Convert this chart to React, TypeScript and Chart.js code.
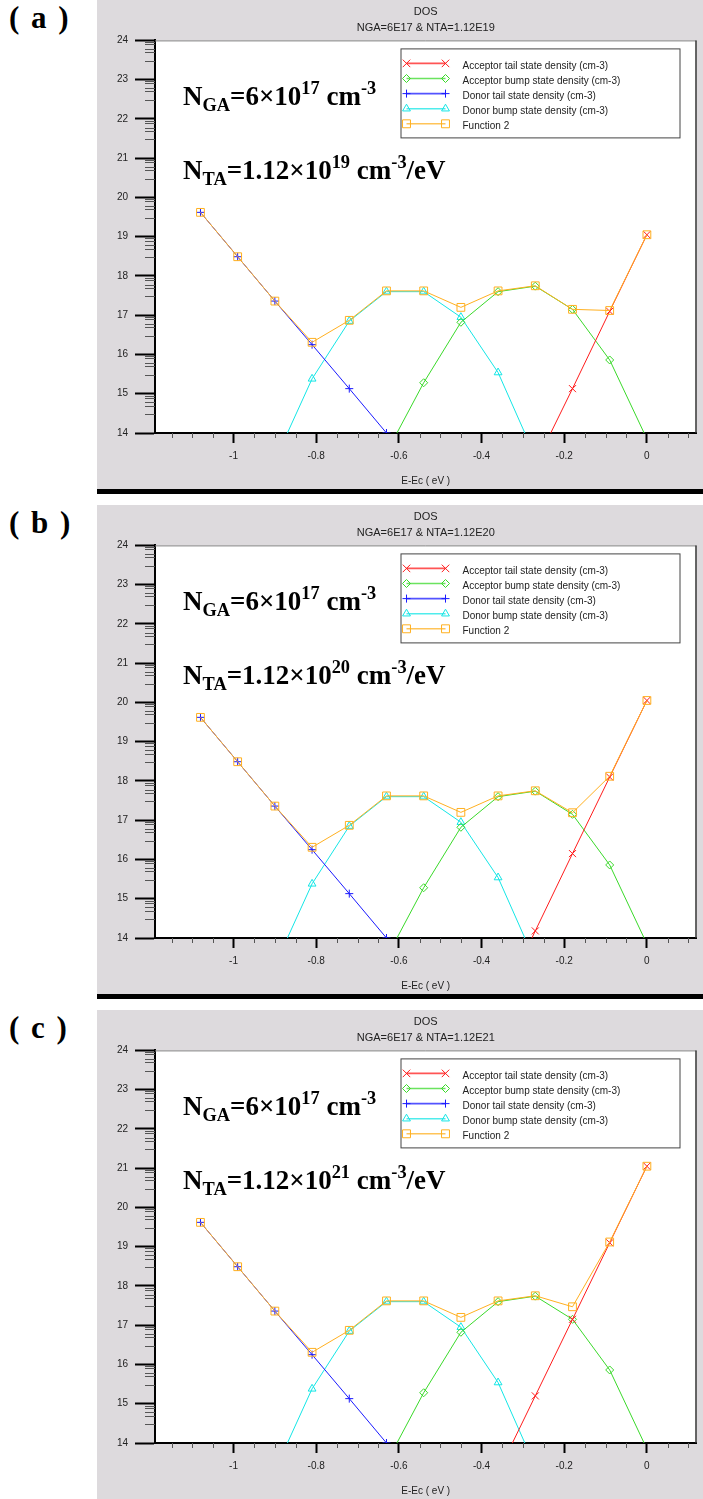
import React, { useEffect, useRef } from 'react';
import { Chart, registerables } from 'chart.js';

Chart.register(...registerables);

// Energy grid (E - Ec, eV) shared by every curve
const energies = [-1.08, -0.99, -0.9, -0.81, -0.72, -0.63, -0.54, -0.45, -0.36, -0.27, -0.18, -0.09, 0];

// log10 of the state densities; null where a curve has no point
const donorTail = [19.62, 18.49, 17.36, 16.25, 15.13, 14.0, 12.88, null, null, null, null, null, null];
const donorBump = [null, null, 13.3, 15.38, 16.85, 17.6, 17.6, 16.95, 15.54, 13.4, null, null, null];
const acceptorBump = [null, null, null, null, null, 13.5, 15.28, 16.82, 17.6, 17.74, 17.15, 15.86, 13.85];

const acceptorTailA = [null, null, null, null, null, null, null, null, null, 13.2, 15.13, 17.1, 19.05];
const acceptorTailB = [null, null, null, null, null, null, null, null, 12.2, 14.18, 16.15, 18.1, 20.05];
const acceptorTailC = [null, null, null, null, null, null, null, null, 13.25, 15.2, 17.15, 19.1, 21.05];

const totalA = [19.62, 18.49, 17.36, 16.31, 16.87, 17.62, 17.62, 17.2, 17.62, 17.75, 17.15, 17.12, 19.05];
const totalB = [19.62, 18.49, 17.36, 16.31, 16.87, 17.62, 17.62, 17.2, 17.62, 17.75, 17.19, 18.12, 20.05];
const totalC = [19.62, 18.49, 17.36, 16.31, 16.87, 17.62, 17.62, 17.2, 17.62, 17.75, 17.47, 19.12, 21.05];

// Axis ticks
const xMajorTicks = [-1, -0.8, -0.6, -0.4, -0.2, 0];
const yMajorTicks = [14, 15, 16, 17, 18, 19, 20, 21, 22, 23, 24];
const yMinorFactors = [3, 5, 6, 8, 9];

const panelTags = ['a', 'b', 'c'];
const panelSubtitles = ['NGA=6E17 & NTA=1.12E19', 'NGA=6E17 & NTA=1.12E20', 'NGA=6E17 & NTA=1.12E21'];
const ntaExponents = ['19', '20', '21'];
const acceptorTails = [acceptorTailA, acceptorTailB, acceptorTailC];
const totals = [totalA, totalB, totalC];

const seriesLabels = [
  'Acceptor tail state density (cm-3)',
  'Acceptor bump state density (cm-3)',
  'Donor tail state density (cm-3)',
  'Donor bump state density (cm-3)',
  'Function 2',
];
const seriesColors = ['#ff1c1c', '#3ad92a', '#1a1aff', '#14e6e6', '#ffb020'];
const seriesMarkers = ['crossRot', 'rectRot', 'cross', 'triangle', 'rect'];
const seriesRadii = [5, 4, 4, 4.5, 5.5];
// Function 2 is painted last, over the component curves
const seriesDrawOrder = [0, 0, 0, 0, -1];

const SANS = "'Liberation Sans', Arial, Helvetica, sans-serif";
const SERIF = "'Liberation Serif', 'Times New Roman', Times, serif";
const PANEL_BG = '#dddadd';

function drawMarker(ctx: CanvasRenderingContext2D, style: string, x: number, y: number, r: number, color: string) {
  ctx.save();
  ctx.strokeStyle = color;
  ctx.lineWidth = 1;
  ctx.beginPath();
  if (style === 'crossRot') {
    const s = r * 0.75;
    ctx.moveTo(x - s, y - s); ctx.lineTo(x + s, y + s);
    ctx.moveTo(x + s, y - s); ctx.lineTo(x - s, y + s);
  } else if (style === 'cross') {
    ctx.moveTo(x - r, y); ctx.lineTo(x + r, y);
    ctx.moveTo(x, y - r); ctx.lineTo(x, y + r);
  } else if (style === 'rectRot') {
    ctx.moveTo(x, y - r); ctx.lineTo(x + r, y); ctx.lineTo(x, y + r); ctx.lineTo(x - r, y); ctx.closePath();
  } else if (style === 'triangle') {
    ctx.moveTo(x, y - r); ctx.lineTo(x + r * 0.87, y + r * 0.5); ctx.lineTo(x - r * 0.87, y + r * 0.5); ctx.closePath();
  } else {
    const h = r * 0.72;
    ctx.rect(x - h, y - h, 2 * h, 2 * h);
  }
  ctx.stroke();
  ctx.restore();
}

// White plot area, minor ticks, frame and the boxed legend
const plotDecor = {
  id: 'plotDecor',
  beforeDraw(chart: any) {
    const { ctx, chartArea: a } = chart;
    ctx.save();
    ctx.fillStyle = '#ffffff';
    ctx.fillRect(a.left, a.top, a.right - a.left, a.bottom - a.top);
    ctx.restore();
  },
  afterDraw(chart: any) {
    const { ctx, chartArea: a, scales } = chart;
    const xs = scales.x;
    const ys = scales.y;
    ctx.save();
    // y minor ticks (log-decade style)
    ctx.strokeStyle = '#555';
    ctx.lineWidth = 1;
    ctx.beginPath();
    for (let n = 14; n < 24; n++) {
      for (const k of yMinorFactors) {
        const py = Math.round(ys.getPixelForValue(n + Math.log10(k))) + 0.5;
        ctx.moveTo(a.left - 10, py);
        ctx.lineTo(a.left, py);
      }
    }
    // x minor ticks every 0.05 eV
    for (let i = -23; i <= 2; i++) {
      const v = i * 0.05;
      if (i % 4 === 0) continue;
      const px = Math.round(xs.getPixelForValue(v)) + 0.5;
      ctx.moveTo(px, a.bottom);
      ctx.lineTo(px, a.bottom + 5);
    }
    ctx.stroke();
    // frame: top and right edges
    ctx.strokeStyle = '#808080';
    ctx.beginPath();
    ctx.moveTo(a.left, a.top + 0.5);
    ctx.lineTo(a.right, a.top + 0.5);
    ctx.stroke();
    ctx.strokeStyle = '#333';
    ctx.lineWidth = 1.5;
    ctx.beginPath();
    ctx.moveTo(a.right - 0.5, a.top);
    ctx.lineTo(a.right - 0.5, a.bottom);
    ctx.stroke();

    // legend
    const left = a.right - 296;
    const top = a.top + 8;
    const w = 279;
    const h = 89;
    ctx.fillStyle = '#fff';
    ctx.fillRect(left, top, w, h);
    ctx.strokeStyle = '#444';
    ctx.lineWidth = 1;
    ctx.strokeRect(left + 0.5, top + 0.5, w, h);
    ctx.font = `10px ${SANS}`;
    ctx.textBaseline = 'middle';
    ctx.textAlign = 'left';
    chart.data.datasets.forEach((ds: any, i: number) => {
      const y = top + 15 + i * 15.1;
      const x1 = left + 6;
      const x2 = left + 45;
      ctx.globalAlpha = 0.75;
      ctx.strokeStyle = ds.borderColor;
      ctx.lineWidth = 1.6;
      ctx.beginPath();
      ctx.moveTo(x1, y);
      ctx.lineTo(x2, y);
      ctx.stroke();
      ctx.globalAlpha = 1;
      drawMarker(ctx, ds.pointStyle, x1, y, ds.pointRadius, ds.borderColor);
      drawMarker(ctx, ds.pointStyle, x2, y, ds.pointRadius, ds.borderColor);
      ctx.fillStyle = '#222';
      ctx.fillText(ds.label, left + 62, y + 2.5);
    });
    ctx.restore();
  },
};

function DosChart({ index }: { index: number }) {
  const ref = useRef<HTMLCanvasElement | null>(null);

  useEffect(() => {
    if (!ref.current) return;
    const seriesValues = [acceptorTails[index], acceptorBump, donorTail, donorBump, totals[index]];
    const datasets = seriesValues.map((vals, s) => ({
      label: seriesLabels[s],
      data: energies.map((x, i) => ({ x, y: vals[i] })),
      order: seriesDrawOrder[s],
      borderColor: seriesColors[s],
      backgroundColor: 'rgba(0,0,0,0)',
      pointBackgroundColor: 'rgba(0,0,0,0)',
      pointBorderColor: seriesColors[s],
      pointStyle: seriesMarkers[s],
      pointRadius: seriesRadii[s],
      pointBorderWidth: 1,
      borderWidth: 1,
      tension: 0,
      spanGaps: false,
      clip: 0,
    }));
    const tickFont = { family: SANS, size: 10 };
    const chart = new Chart(ref.current, {
      type: 'line',
      data: { datasets },
      plugins: [plotDecor],
      options: {
        animation: false,
        responsive: false,
        maintainAspectRatio: false,
        events: [],
        layout: { padding: { left: 0, right: 4, top: 0, bottom: 0 } },
        plugins: {
          legend: { display: false },
          tooltip: { enabled: false },
          title: {
            display: true,
            text: 'DOS',
            fullSize: false,
            color: '#222',
            font: { family: SANS, size: 11, weight: 'normal' },
            padding: { top: 5, bottom: 3 },
          },
          subtitle: {
            display: true,
            text: panelSubtitles[index],
            fullSize: false,
            color: '#222',
            font: { family: SANS, size: 11, weight: 'normal' },
            padding: { top: 0, bottom: 6 },
          },
        },
        scales: {
          x: {
            type: 'linear',
            min: -1.19,
            max: 0.12,
            afterBuildTicks: (s: any) => {
              s.ticks = xMajorTicks.map((value) => ({ value }));
            },
            afterFit: (s: any) => {
              s.height = 56;
            },
            ticks: {
              font: tickFont,
              color: '#222',
              padding: 7,
              maxRotation: 0,
              autoSkip: false,
              callback: (v: any) => String(Math.round(Number(v) * 10) / 10),
            },
            grid: { drawOnChartArea: false, drawTicks: true, tickLength: 10, tickWidth: 2, tickColor: '#000' },
            border: { display: true, color: '#000', width: 2 },
            title: {
              display: true,
              text: 'E-Ec ( eV )',
              color: '#222',
              font: { family: SANS, size: 10 },
              padding: { top: 0, bottom: 2 },
            },
          },
          y: {
            type: 'linear',
            min: 14,
            max: 24,
            afterBuildTicks: (s: any) => {
              s.ticks = yMajorTicks.map((value) => ({ value }));
            },
            afterFit: (s: any) => {
              s.width = 58;
            },
            ticks: { font: tickFont, color: '#222', padding: 7, autoSkip: false },
            grid: { drawOnChartArea: false, drawTicks: true, tickLength: 20, tickWidth: 2, tickColor: '#000' },
            border: { display: true, color: '#000', width: 2 },
          },
        },
      } as any,
    });
    return () => chart.destroy();
  }, [index]);

  return <canvas ref={ref} width={606} height={489} style={{ display: 'block' }} />;
}

const supStyle: React.CSSProperties = { fontSize: '0.68em', position: 'relative', top: '-0.62em' };
const subStyle: React.CSSProperties = { fontSize: '0.68em', position: 'relative', top: '0.32em' };

function Panel({ index }: { index: number }) {
  const top = index * 505;
  const noteStyle: React.CSSProperties = {
    position: 'absolute',
    left: 183,
    fontFamily: SERIF,
    fontWeight: 'bold',
    fontSize: 27,
    lineHeight: '27px',
    whiteSpace: 'nowrap',
    color: '#000',
  };
  return (
    <>
      <div style={{ position: 'absolute', left: 97, top, width: 606, height: 489, background: PANEL_BG }}>
        <DosChart index={index} />
      </div>
      {index < 2 && (
        <div style={{ position: 'absolute', left: 97, top: top + 489, width: 606, height: 5, background: '#000' }} />
      )}
      <div
        style={{
          position: 'absolute',
          left: 9,
          top: top + 2,
          fontFamily: SERIF,
          fontWeight: 'bold',
          fontSize: 31,
          lineHeight: '31px',
          whiteSpace: 'pre',
          wordSpacing: 4,
          color: '#000',
        }}
      >
        {`( ${panelTags[index]} )`}
      </div>
      <div style={{ ...noteStyle, top: top + 83 }}>
        N<span style={subStyle}>GA</span>=6×10<span style={supStyle}>17</span> cm<span style={supStyle}>-3</span>
      </div>
      <div style={{ ...noteStyle, top: top + 157 }}>
        N<span style={subStyle}>TA</span>=1.12×10<span style={supStyle}>{ntaExponents[index]}</span> cm
        <span style={supStyle}>-3</span>/eV
      </div>
    </>
  );
}

export default function App() {
  return (
    <div style={{ position: 'absolute', left: 0, top: 0, width: 703, height: 1499, background: '#fff', overflow: 'hidden' }}>
      {panelTags.map((tag, i) => (
        <Panel key={tag} index={i} />
      ))}
    </div>
  );
}
